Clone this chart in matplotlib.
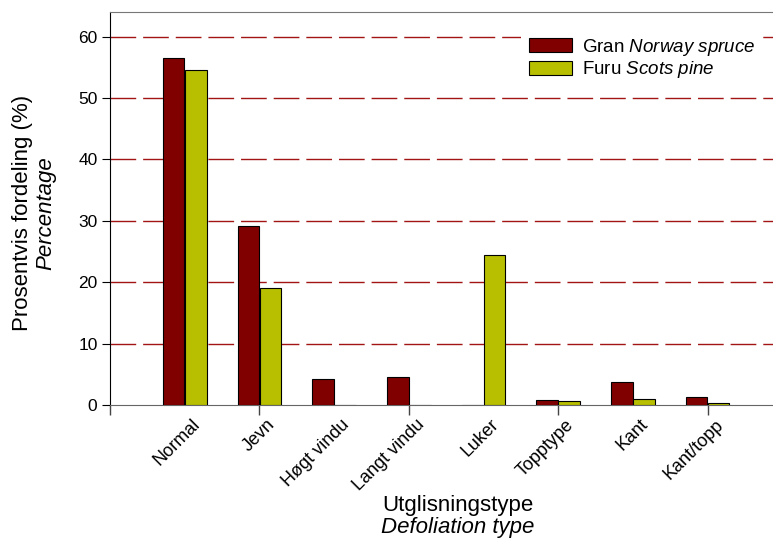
import matplotlib
matplotlib.use("Agg")
import matplotlib.pyplot as plt
import matplotlib.transforms as mtransforms
import numpy as np

plt.rcParams['font.family'] = ['Liberation Sans', 'DejaVu Sans']
plt.rcParams['mathtext.fontset'] = 'custom'
plt.rcParams['mathtext.rm'] = 'Liberation Sans'
plt.rcParams['mathtext.it'] = 'Liberation Sans:italic'

categories = ["Normal", "Jevn", "Høgt vindu", "Langt vindu", "Luker", "Topptype", "Kant", "Kant/topp"]
gran = [56.5, 29.1, 4.2, 4.6, 0.0, 0.8, 3.7, 1.3]
furu = [54.6, 19.0, 0.0, 0.0, 24.5, 0.65, 0.95, 0.3]
series_labels = ["Gran $\\it{Norway\\ spruce}$", "Furu $\\it{Scots\\ pine}$"]
yticks = [0, 10, 20, 30, 40, 50, 60]

W, H = 773, 541
fig = plt.figure(figsize=(W / 100, H / 100), dpi=100)
ax_w = 747  # pixels for 10 category units
ax = fig.add_axes([110 / W, 1 - 405 / H, ax_w / W, (405 - 12) / H])

x = np.arange(len(categories))
bw = 0.29
ax.bar(x - 0.148, gran, width=bw, color="#800000", edgecolor="black", linewidth=0.8, label=series_labels[0], zorder=3)
ax.bar(x + 0.148, furu, width=bw, color="#B8BF00", edgecolor="black", linewidth=0.8, label=series_labels[1], zorder=3)

ax.set_ylim(0, 64)
ax.set_xlim(-1, 9)
ax.set_yticks(yticks)
ax.tick_params(axis='y', labelsize=12.5, length=6, direction='out', width=0.8, pad=3)

for v in yticks[1:]:
    ax.axhline(v, color="#A31515", linewidth=1.0, dashes=(18.5, 5), zorder=1)

ax.set_xticks(x)
ax.set_xticklabels(categories, rotation=45, ha='right', rotation_mode='anchor', fontsize=13)
ax.tick_params(axis='x', which='major', length=0, pad=8)
for lab in ax.get_xticklabels():
    lab.set_transform(lab.get_transform() + mtransforms.ScaledTranslation(7 / 100, 0, fig.dpi_scale_trans))

sec = ax.secondary_xaxis('bottom')
sec.set_xticks([-1, 1, 3, 5, 7])
sec.set_xticklabels([])
sec.tick_params(axis='x', length=7, width=1.0, direction='out', color="#444444")
sec.spines['bottom'].set_visible(False)

ax.spines['right'].set_visible(False)
ax.spines['top'].set_color("#777777")
ax.spines['left'].set_linewidth(0.8)
ax.spines['bottom'].set_linewidth(0.8)
ax.spines['bottom'].set_color("#666666")

leg = ax.legend(loc='upper left', bbox_to_anchor=(521 / W, 1 - 29 / H), bbox_transform=fig.transFigure,
                frameon=True, fontsize=13.5, handlelength=2.3, handleheight=0.75, labelspacing=0.09,
                handletextpad=0.55, borderpad=0.4, borderaxespad=0)
leg.get_frame().set_edgecolor('none')
leg.get_frame().set_facecolor('white')
leg.get_frame().set_alpha(1)
leg.get_frame().set_boxstyle('square', pad=0)
leg.set_zorder(5)

fig.text(23 / W, 1 - 213 / H, "Prosentvis fordeling (%)", rotation=90, ha='center', va='center', fontsize=16)
fig.text(46 / W, 1 - 213 / H, "Percentage", rotation=90, ha='center', va='center', fontsize=16, style='italic')
fig.text(458 / W, 1 - 505 / H, "Utglisningstype", ha='center', va='center', fontsize=16)
fig.text(458 / W, 1 - 527 / H, "Defoliation type", ha='center', va='center', fontsize=16, style='italic')

fig.savefig("out.png", dpi=100)
